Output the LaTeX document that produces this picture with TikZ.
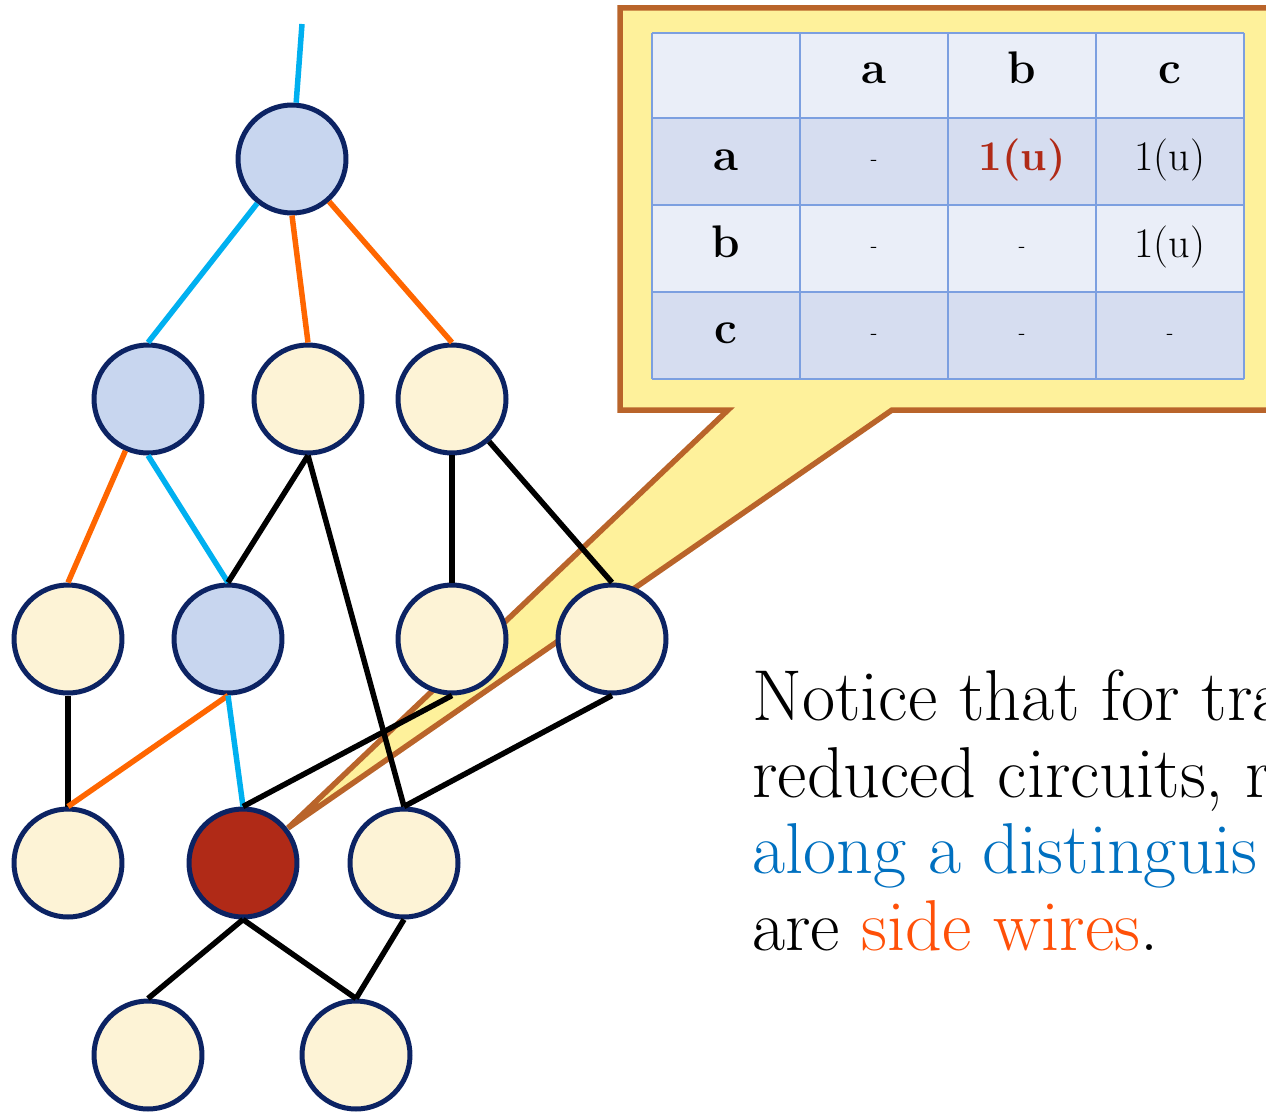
\documentclass[tikz,border=0pt]{standalone}
\usepackage{xcolor}
\usepackage{tikz}

\definecolor{gateline}{HTML}{0C2363}
\definecolor{pathfill}{HTML}{C8D6EF}
\definecolor{sidefill}{HTML}{FDF3D6}
\definecolor{hotfill}{HTML}{B02A17}
\definecolor{wireblue}{HTML}{00B0F0}
\definecolor{wireorange}{HTML}{FF6600}
\definecolor{calloutfill}{HTML}{FEF19B}
\definecolor{calloutline}{HTML}{B9642A}
\definecolor{gridline}{HTML}{7C9FE0}
\definecolor{rowlight}{HTML}{EAEEF8}
\definecolor{rowdark}{HTML}{D6DDF0}
\definecolor{textblue}{HTML}{0070C0}
\definecolor{textorange}{HTML}{FF5008}

\begin{document}
\begin{tikzpicture}[x=0.02cm, y=-0.02cm,
  gate/.style={circle, draw=gateline, line width=0.1cm, minimum size=2.16cm, inner sep=0pt},
  pathgate/.style={gate, fill=pathfill},
  sidegate/.style={gate, fill=sidefill},
  hotgate/.style={gate, fill=hotfill},
  wire/.style={line width=0.11cm},
  pathwire/.style={wire, wireblue},
  sidewire/.style={wire, wireorange},
  grid/.style={gridline, line width=0.05cm},
  cell/.style={anchor=base, inner sep=0pt, font=\fontsize{24}{24}\selectfont},
  head/.style={cell, font=\fontsize{26}{26}\selectfont\bfseries},
  blank/.style={cell, font=\fontsize{12}{12}\selectfont},
  say/.style={anchor=base west, inner sep=0pt, font=\fontsize{41}{46}\selectfont}]

\useasboundingbox (0,0) rectangle (1266,1115);
\clip (0,0) rectangle (1266,1115);

% callout holding the table
\draw[line width=0.11cm, draw=calloutline, fill=calloutfill]
  (620,8) -- (1300,8) -- (1300,410) -- (892,410) -- (288,828) -- (728,410) -- (620,410) -- cycle;

\foreach \ya/\yb/\c in {33/118/rowlight, 118/205/rowdark, 205/292/rowlight, 292/379/rowdark}
  \fill[\c] (652,\ya) rectangle (1244,\yb);
\foreach \x in {652,800,948,1096,1244}
  \draw[grid] (\x,33) -- (\x,379);
\foreach \y in {33,118,205,292,379}
  \draw[grid] (652,\y) -- (1244,\y);

\foreach \t [count=\i] in {a,b,c} {
  \node[head] (col\t) at ({726+148*\i},84) {\t};
  \node[head] (row\t) at (726,{84+86.5*\i}) {\t};
}
\node[blank] (aa) at (874,165) {-};
\node[cell, font=\fontsize{24}{24}\selectfont\bfseries, text=hotfill] (ab) at (1022,170) {1(u)};
\node[cell] (ac) at (1170,170) {1(u)};
\node[blank] (ba) at (874,252) {-};
\node[blank] (bb) at (1022,252) {-};
\node[cell] (bc) at (1170,257) {1(u)};
\node[blank] (ca) at (874,339) {-};
\node[blank] (cb) at (1022,339) {-};
\node[blank] (cc) at (1170,339) {-};

% gates
\coordinate (in) at (302,24);
\node[pathgate] (n1a) at (292,159) {};
\node[pathgate] (n2a) at (148,399) {};
\node[sidegate] (n2b) at (308,399) {};
\node[sidegate] (n2c) at (452,399) {};
\node[sidegate] (n3a) at (68,639) {};
\node[pathgate] (n3b) at (228,639) {};
\node[sidegate] (n3c) at (452,639) {};
\node[sidegate] (n3d) at (612,639) {};
\node[sidegate] (n4a) at (68,863) {};
\node[hotgate] (n4b) at (243,863) {};
\node[sidegate] (n4c) at (404,863) {};
\node[sidegate] (n5a) at (148,1055) {};
\node[sidegate] (n5b) at (356,1055) {};

% wires
\draw[pathwire] (in) -- (n1a);
\draw[pathwire] (n1a) -- (n2a.north);
\draw[sidewire] (n1a.south) -- (n2b.north);
\draw[sidewire] (n1a) -- (n2c.north);
\draw[sidewire] (n2a) -- (n3a.north);
\draw[pathwire] (n2a.south) -- (n3b.north);
\draw[wire] (n2b.south) -- (n3b.north);
\draw[wire] (n2b.south) -- (n4c.north);
\draw[wire] (n2c.south) -- (n3c.north);
\draw[wire] (n2c) -- (n3d.north);
\draw[wire] (n3a.south) -- (n4a.north);
\draw[sidewire] (n3b.south) -- (n4a.north);
\draw[pathwire] (n3b.south) -- (n4b.north);
\draw[wire] (n3c.south) -- (n4b.north);
\draw[wire] (n3d.south) -- (n4c.north);
\draw[wire] (n4b.south) -- (n5a.north);
\draw[wire] (n4b.south) -- (n5b.north);
\draw[wire] (n4c.south) -- (n5b.north);

\node[say] (line1) at (752,720) {Notice that for tra};
\node[say] (line2) at (752,797) {reduced circuits, r};
\node[say, text=textblue] (line3) at (752,873) {along a distinguis};
\node[say] (line4) at (752,950) {are \textcolor{textorange}{side wires}.};
\end{tikzpicture}
\end{document}
